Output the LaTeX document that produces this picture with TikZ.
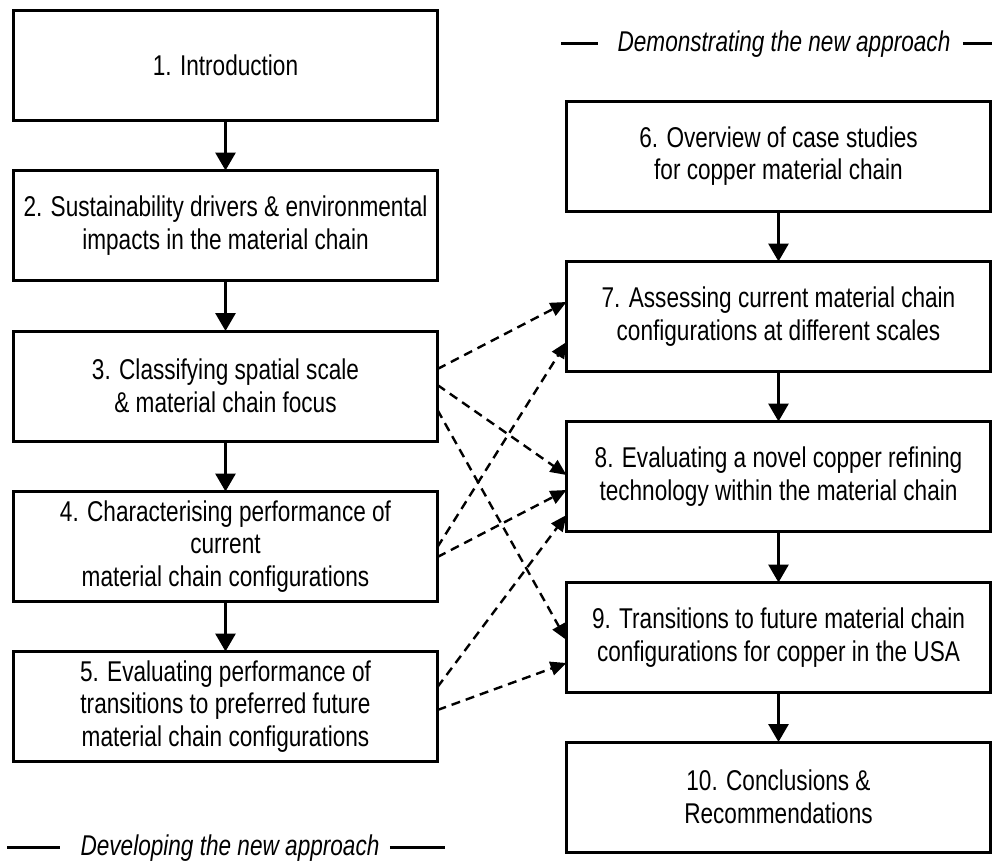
\documentclass[tikz,border=0pt]{standalone}
\usepackage{fontspec}
\setmainfont{Liberation Sans}[FakeStretch=0.79]
\usetikzlibrary{arrows.meta,calc}
\begin{document}
\begin{tikzpicture}[x=0.5pt,y=-0.5pt,
  stage/.style={draw, line width=1.5pt, minimum width=212pt, minimum height=55pt,
    align=center, inner sep=0pt, outer sep=0pt,
    font=\fontsize{14.3}{16.25}\selectfont},
  flow/.style={line width=1.5pt, -{Triangle[length=9pt,width=10pt]}},
  link/.style={line width=1.2pt, dash pattern=on 4.5pt off 3pt,
    -{Triangle[length=8pt,width=7pt]}},
  caption/.style={font=\fontsize{14.3}{16}\selectfont\itshape, inner sep=0pt},
  rule/.style={line width=1.5pt}]
\useasboundingbox (0,0) rectangle (992,863);

% left column: developing the approach
\node[stage] (s1) at (225.5,65)    {1. Introduction};
\node[stage] (s2) at (225.5,225.5) {2. Sustainability drivers \& environmental\\impacts in the material chain};
\node[stage] (s3) at (225.5,386)   {3. Classifying spatial scale\\\& material chain focus};
\node[stage] (s4) at (225.5,546.5) {4. Characterising performance of\\current\\material chain configurations};
\node[stage] (s5) at (225.5,706.5) {5. Evaluating performance of\\transitions to preferred future\\material chain configurations};

% right column: demonstrating the approach
\node[stage] (s6)  at (778.5,156)   {6. Overview of case studies\\for copper material chain};
\node[stage] (s7)  at (778.5,316.5) {7. Assessing current material chain\\configurations at different scales};
\node[stage] (s8)  at (778.5,476.5) {8. Evaluating a novel copper refining\\technology within the material chain};
\node[stage] (s9)  at (778.5,637.5) {9. Transitions to future material chain\\configurations for copper in the USA};
\node[stage] (s10) at (778.5,797)   {10. Conclusions \&\\Recommendations};

% sequence arrows
\draw[flow] (s1.south) -- (s2.north);
\draw[flow] (s2.south) -- (s3.north);
\draw[flow] (s3.south) -- (s4.north);
\draw[flow] (s4.south) -- (s5.north);
\draw[flow] (s6.south) -- (s7.north);
\draw[flow] (s7.south) -- (s8.north);
\draw[flow] (s8.south) -- (s9.north);
\draw[flow] (s9.south) -- (s10.north);

% cross links between the two columns
\draw[link] ($(s3.east)+(0,-17)$)   -- ($(s7.west)+(0,-14.5)$);
\draw[link] ($(s3.east)+(0,-1)$)    -- ($(s8.west)+(0,-1.5)$);
\draw[link] ($(s3.east)+(0,24)$)    -- ($(s9.west)+(0,2.5)$);
\draw[link] ($(s4.east)+(0,0.5)$)   -- ($(s7.west)+(0,25.5)$);
\draw[link] ($(s4.east)+(0,10.5)$)  -- ($(s8.west)+(0,13.5)$);
\draw[link] ($(s5.east)+(0,-19.5)$) -- ($(s8.west)+(0,38.5)$);
\draw[link] ($(s5.east)+(0,3.5)$)   -- ($(s9.west)+(0,25.5)$);

% column captions
\node[caption] (demo) at (784,44) {Demonstrating the new approach};
\coordinate (demoL) at (561,43);
\coordinate (demoR) at (992,43);
\draw[rule] (demoL) -- ($(demo.west)+(-19,-1)$);
\draw[rule] ($(demo.east)+(12,-1)$) -- (demoR);

\node[caption] (dev) at (230,848) {Developing the new approach};
\coordinate (devL) at (7,847);
\coordinate (devR) at (445,847);
\draw[rule] (devL) -- ($(dev.west)+(-20,-1)$);
\draw[rule] ($(dev.east)+(10,-1)$) -- (devR);
\end{tikzpicture}
\end{document}
